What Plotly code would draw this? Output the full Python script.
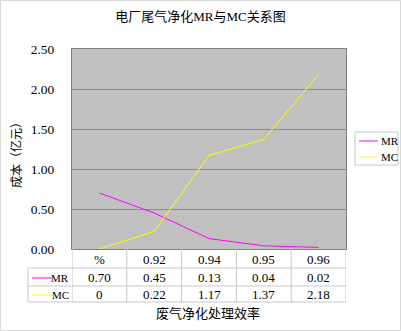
import plotly.graph_objects as go

categories = ["%", "0.92", "0.94", "0.95", "0.96"]
mr = [0.70, 0.45, 0.13, 0.04, 0.02]
mc = [0, 0.22, 1.17, 1.37, 2.18]
y_ticks = [0, 0.5, 1.0, 1.5, 2.0, 2.5]
series_names = ["MR", "MC"]
series_colors = ["#FF00FF", "#FFFF00"]

FONT = "Liberation Serif, Noto Sans CJK SC"
W, H = 401, 331
L, R, T, B = 72, 55, 49, 82
pw, ph = W - L - R, H - T - B


def px_x(p):
    return (p - L) / pw


def px_y(p):
    return (H - B - p) / ph


def fmt(v):
    return "0" if v == 0 else f"{v:.2f}"


def note(x, y, text, xref="paper", xanchor="center", size=13, angle=0):
    return dict(x=x, xref=xref, y=y, yref="paper", text=text, showarrow=False,
                xanchor=xanchor, yanchor="middle", textangle=angle,
                font=dict(size=size), borderpad=0)


fig = go.Figure()
for name, vals, col in zip(series_names, [mr, mc], series_colors):
    fig.add_trace(go.Scatter(x=categories, y=vals, mode="lines", name=name,
                             line=dict(color=col, width=1), showlegend=False))

shapes = []
annotations = []
grid = "#C8C8C8"

# data table grid
for yy in [268, 286, 302]:
    shapes.append(dict(type="line", xref="paper", yref="paper",
                       x0=px_x(28), x1=1, y0=px_y(yy), y1=px_y(yy),
                       line=dict(color=grid, width=1)))
shapes.append(dict(type="line", xref="paper", yref="paper",
                   x0=px_x(28), x1=px_x(28), y0=px_y(268), y1=px_y(302),
                   line=dict(color=grid, width=1)))
for i in range(len(categories) + 1):
    shapes.append(dict(type="line", xref="x", yref="paper",
                       x0=i - 0.5, x1=i - 0.5, y0=0, y1=px_y(302),
                       line=dict(color=grid, width=1)))

row_y = [px_y(259), px_y(277.5), px_y(294.5)]
for i, c in enumerate(categories):
    annotations.append(note(i, row_y[0], c, xref="x"))
    annotations.append(note(i, row_y[1], fmt(mr[i]), xref="x"))
    annotations.append(note(i, row_y[2], fmt(mc[i]), xref="x"))

for name, col, yy in zip(series_names, series_colors, [278, 295]):
    shapes.append(dict(type="line", xref="paper", yref="paper",
                       x0=px_x(32), x1=px_x(52), y0=px_y(yy), y1=px_y(yy),
                       line=dict(color=col, width=1)))
    annotations.append(note(px_x(70), px_y(yy - 0.5), name, xanchor="right", size=11))

# legend box at right
shapes.append(dict(type="rect", xref="paper", yref="paper",
                   x0=px_x(355), x1=px_x(398), y0=px_y(132), y1=px_y(165),
                   line=dict(color="#C8C8C8", width=1), fillcolor="white"))
for name, col, yy in zip(series_names, series_colors, [141, 157]):
    shapes.append(dict(type="line", xref="paper", yref="paper",
                       x0=px_x(359), x1=px_x(378), y0=px_y(yy), y1=px_y(yy),
                       line=dict(color=col, width=1)))
    annotations.append(note(px_x(380), px_y(yy), name, xanchor="left", size=11))

annotations.append(note(px_x(208), px_y(313), "废气净化处理效率"))
annotations.append(note(px_x(16), px_y(152), "成本（亿元）", size=12, angle=-90))

# outer border
shapes.append(dict(type="rect", xref="paper", yref="paper",
                   x0=px_x(0.5), x1=px_x(400.5), y0=px_y(0.5), y1=px_y(330.5),
                   line=dict(color="#D9D9D9", width=1)))

fig.update_layout(
    width=W, height=H,
    margin=dict(l=L, r=R, t=T, b=B, autoexpand=False),
    paper_bgcolor="white",
    plot_bgcolor="#C0C0C0",
    font=dict(family=FONT, size=12, color="black"),
    title=dict(text="电厂尾气净化MR与MC关系图", x=0.5, xanchor="center",
               y=1 - 16 / H, yanchor="middle", font=dict(size=13)),
    showlegend=False,
    shapes=shapes,
    annotations=annotations,
)
fig.update_xaxes(type="category", range=[-0.5, 4.5], showticklabels=False,
                 showgrid=False, showline=True, linecolor="#808080", mirror=True,
                 zeroline=False, fixedrange=True)
fig.update_yaxes(range=[0, 2.5], tickvals=y_ticks, tickformat=".2f",
                 showgrid=True, gridcolor="#8C8C8C", gridwidth=1,
                 showline=True, linecolor="#808080", mirror=True, zeroline=False,
                 ticks="", ticklabelstandoff=14, tickfont=dict(size=13.5))

fig.write_html("out.html", config={"displayModeBar": False},
               post_script="document.body.style.margin='0';")
